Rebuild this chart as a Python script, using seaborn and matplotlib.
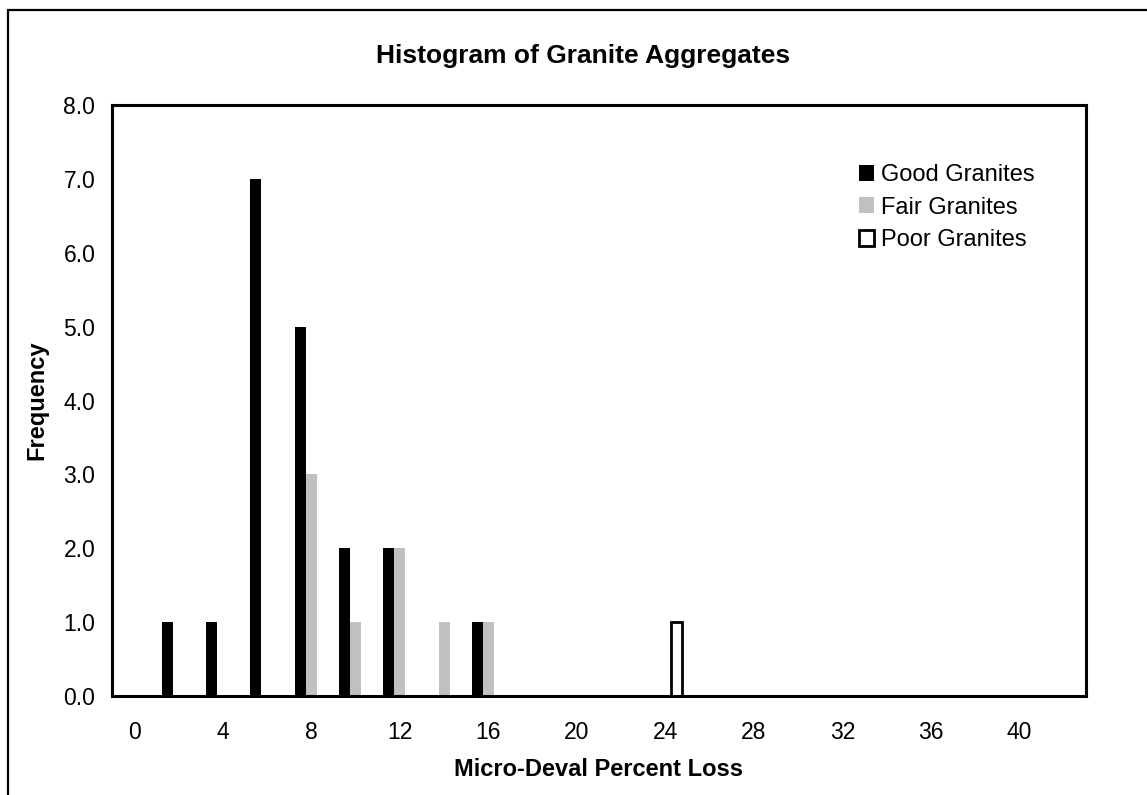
import matplotlib
matplotlib.use("Agg")
import matplotlib.pyplot as plt
from matplotlib.patches import Rectangle, Patch
import seaborn as sns
import pandas as pd

# ---- data ----
bins = [str(v) for v in range(0, 44, 2)]  # 0..42
series = ["Good Granites", "Fair Granites", "Poor Granites"]
good = [0, 1, 1, 7, 5, 2, 2, 0, 1, 0, 0, 0, 0, 0, 0, 0, 0, 0, 0, 0, 0, 0]
fair = [0, 0, 0, 0, 3, 1, 2, 1, 1, 0, 0, 0, 0, 0, 0, 0, 0, 0, 0, 0, 0, 0]
poor = [0, 0, 0, 0, 0, 0, 0, 0, 0, 0, 0, 0, 1, 0, 0, 0, 0, 0, 0, 0, 0, 0]
yticks = [0, 1, 2, 3, 4, 5, 6, 7, 8]
title = "Histogram of Granite Aggregates"
xlabel = "Micro-Deval Percent Loss"
ylabel = "Frequency"

colors = {"Good Granites": "#000000", "Fair Granites": "#C0C0C0", "Poor Granites": "#FFFFFF"}

rows = []
for name, vals in zip(series, [good, fair, poor]):
    for b, v in zip(bins, vals):
        rows.append({"bin": b, "series": name, "freq": v})
df = pd.DataFrame(rows)

sns.set_theme(style="white")
plt.rcParams["font.family"] = ["Liberation Sans", "DejaVu Sans"]
plt.rcParams["text.color"] = "black"
plt.rcParams["axes.labelcolor"] = "black"
plt.rcParams["xtick.color"] = "black"
plt.rcParams["ytick.color"] = "black"

W, H = 1147, 795
fig = plt.figure(figsize=(W / 100, H / 100), dpi=100)
fig.patch.set_facecolor("white")
ax = fig.add_axes([112 / W, 1 - 696 / H, (1086 - 112) / W, (696 - 105) / H])
AH = 696 - 105
AW = 1086 - 112

sns.barplot(data=df, x="bin", y="freq", hue="series", order=bins, hue_order=series,
            palette=colors, width=0.75, saturation=1, ax=ax, legend=False,
            errorbar=None)

for cont, name in zip(ax.containers, series):
    for p in cont:
        if name == "Poor Granites":
            p.set_edgecolor("black")
            p.set_linewidth(2)
            if p.get_height() == 0:
                p.set_visible(False)
        else:
            p.set_edgecolor("none")
            p.set_linewidth(0)

ax.set_xlim(-0.5, len(bins) - 0.5)
ax.set_ylim(0, 8)
ax.set_yticks(yticks)
ax.set_yticklabels([f"{v:.1f}" for v in yticks])

# major ticks at category boundaries, labels every other category
ax.set_xticks([i - 0.5 for i in range(len(bins) + 1)])
ax.set_xticklabels([""] * (len(bins) + 1))
ax.set_xticks(list(range(0, len(bins), 2)), minor=True)
ax.set_xticklabels([bins[i] for i in range(0, len(bins), 2)], minor=True)
ax.tick_params(axis="x", which="minor", length=0, pad=18, labelsize=16.5)
ax.tick_params(axis="x", which="major", direction="inout", length=12, width=0.9, color="black")
ax.tick_params(axis="y", which="major", direction="inout", length=12, width=0.9, color="black",
               labelsize=16.5, pad=6)

for s in ax.spines.values():
    s.set_visible(True)
    s.set_color("black")
    s.set_linewidth(2.2)

ax.set_xlabel(xlabel, fontsize=17, fontweight="bold")
ax.xaxis.label.set_va("center")
ax.xaxis.set_label_coords(0.5, (696 - 770) / AH)
ax.set_ylabel(ylabel, fontsize=17, fontweight="bold")
ax.yaxis.label.set_va("center")
ax.yaxis.set_label_coords((37 - 112) / AW, 0.5)
fig.text(583 / W, 1 - 56 / H, title, ha="center", va="center",
         fontsize=19, fontweight="bold")

handles = [Patch(facecolor="#000000", edgecolor="#000000", linewidth=0),
           Patch(facecolor="#C0C0C0", edgecolor="#C0C0C0", linewidth=0),
           Patch(facecolor="#FFFFFF", edgecolor="#000000", linewidth=2)]
ax.legend(handles, series, frameon=False, loc="upper left",
          bbox_to_anchor=(859 / W, 1 - 164 / H), bbox_transform=fig.transFigure,
          borderaxespad=0, borderpad=0, handlelength=0.65, handleheight=0.65,
          handletextpad=0.3, labelspacing=0.45, fontsize=17)

fig.add_artist(Rectangle((8 / W, -0.1), 1.2, 1.1 - 10 / H, transform=fig.transFigure,
                         fill=False, edgecolor="black", linewidth=1.6))

fig.savefig("out.png", dpi=100, facecolor="white")
